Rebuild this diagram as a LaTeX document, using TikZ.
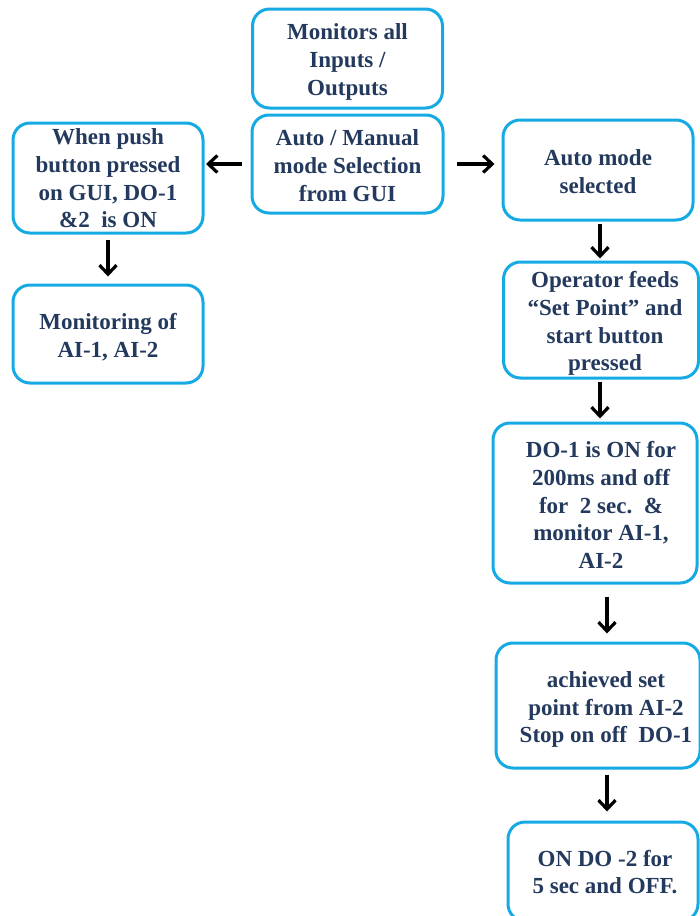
\documentclass[tikz,border=0pt]{standalone}
\usepackage{fontspec}
\setmainfont{Liberation Serif}
\usetikzlibrary{arrows.meta,calc}
\definecolor{boxblue}{RGB}{22,170,228}
\definecolor{txt}{RGB}{35,57,93}
\tikzset{
  box/.style={draw=boxblue, line width=3pt, rounded corners=17pt, fill=white, inner sep=0pt},
  lbl/.style={text=txt, align=center, inner sep=0pt,
    font=\bfseries\fontsize{23}{27.7}\selectfont},
  arr/.style={draw=black, line width=3.2pt, -{Straight Barb[length=9pt,width=17pt]}}
}
\begin{document}
\begin{tikzpicture}[x=1pt,y=-1pt]
\useasboundingbox (0,0) rectangle (700,916);
\clip (0,0) rectangle (700,916);
\fill[white] (0,0) rectangle (700,916);
% boxes
\node[box, minimum width=190pt, minimum height=99pt] (A) at (347.5,58.5) {};
\node[box, minimum width=191pt, minimum height=98pt] (B) at (347.5,164) {};
\node[box, minimum width=190pt, minimum height=110pt] (C) at (108,178) {};
\node[box, minimum width=190pt, minimum height=98pt] (D) at (108,334) {};
\node[box, minimum width=190pt, minimum height=100pt] (E) at (598,170) {};
\node[box, minimum width=195pt, minimum height=116pt] (F) at (601,320) {};
\node[box, minimum width=204pt, minimum height=160pt] (G) at (595,503) {};
\node[box, minimum width=204pt, minimum height=125pt] (H) at (598,705.5) {};
\node[box, minimum width=190pt, minimum height=99pt] (I) at (603,871.5) {};
% texts
\node[lbl] (At) at (347.5,62) {Monitors all\\Inputs /\\Outputs};
\node[lbl] (Bt) at (347.5,165.5) {Auto / Manual\\mode Selection\\from GUI};
\node[lbl] (Ct) at (108,178.5) {When push\\button pressed\\on GUI, DO-1\\\&2\ \ is ON};
\node[lbl] (Dt) at (108,337) {Monitoring of\\AI-1, AI-2};
\node[lbl] (Et) at (598,171.5) {Auto mode\\selected};
\node[lbl] (Ft) at (605,323.5) {Operator feeds\\“Set Point” and\\start button\\pressed};
\node[lbl] (Gt) at (601,505) {DO-1 is ON for\\200ms and off\\for\ \ 2 sec.\ \ \&\\monitor AI-1,\\AI-2};
\node[lbl] (Ht) at (606,709.5) {achieved set\\point from AI-2\\Stop on off\ \ DO-1};
\node[lbl] (It) at (605,872) {ON DO -2 for\\5 sec and OFF.};
% connectors
\draw[arr, shorten <=9pt, shorten >=1.5pt] (B.west) -- (B.west -| C.east);
\draw[arr, shorten <=5pt, shorten >=7pt] (C.south) -- (D.north);
\draw[arr, shorten <=12pt, shorten >=7pt] (B.east) -- (B.east -| E.west);
\draw[arr, shorten <=2pt, shorten >=2pt] ([xshift=2pt]E.south) -- ([xshift=2pt]E.south |- F.north);
\draw[arr, shorten <=2pt, shorten >=3pt] ([xshift=-1pt]F.south) -- ([xshift=-1pt]F.south |- G.north);
\draw[arr, shorten <=12pt, shorten >=8pt] ([xshift=12pt]G.south) -- ([xshift=12pt]G.south |- H.north);
\draw[arr, shorten <=5pt, shorten >=9pt] ([xshift=9pt]H.south) -- ([xshift=9pt]H.south |- I.north);
\end{tikzpicture}
\end{document}
